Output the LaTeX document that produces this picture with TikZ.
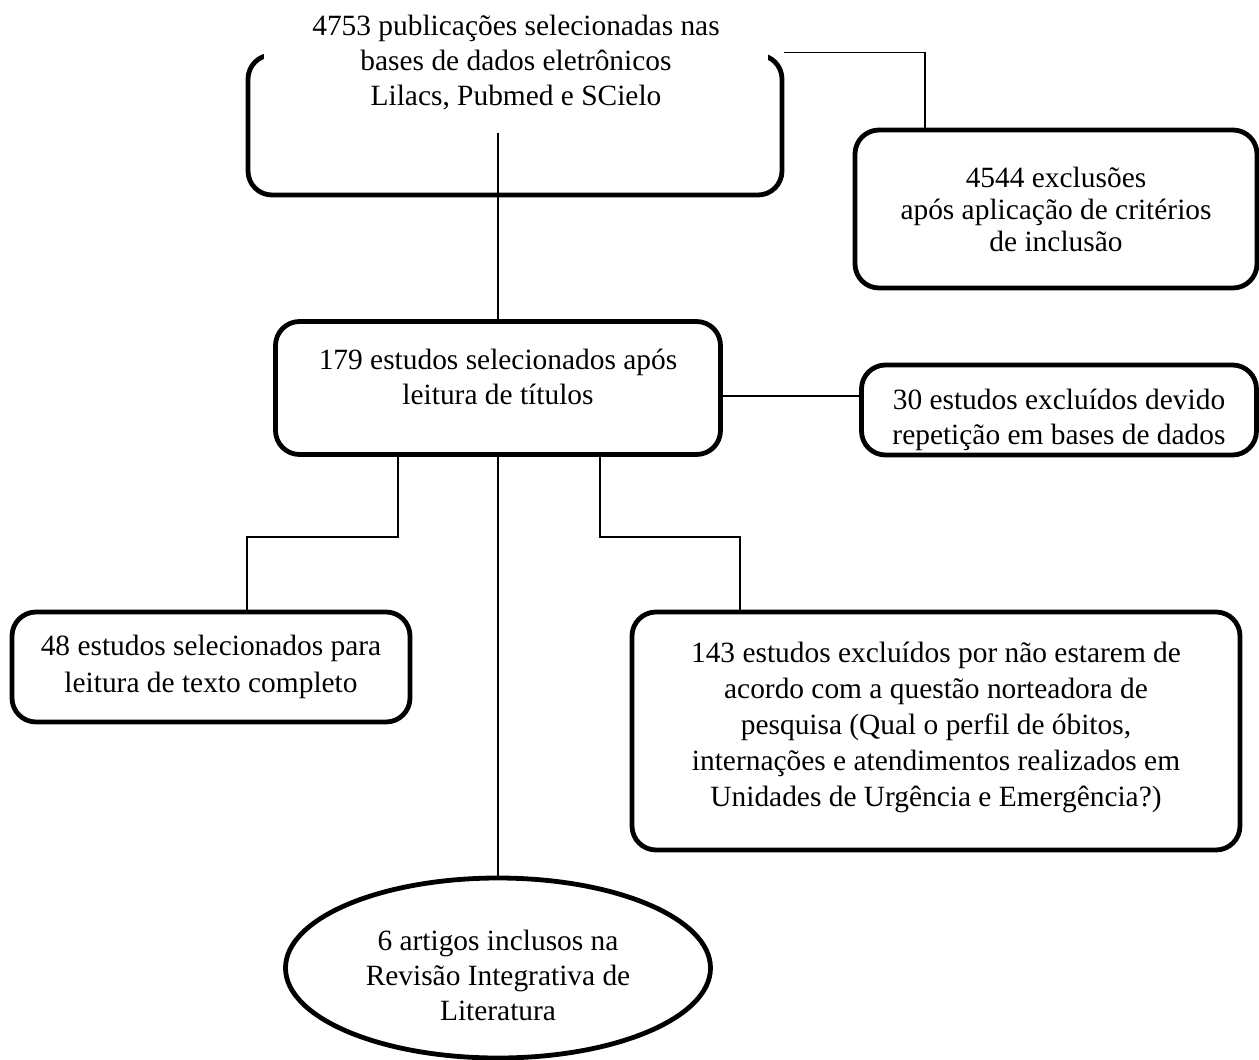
\documentclass[tikz,border=0pt]{standalone}
\usepackage{fontspec}
\setmainfont{Liberation Serif}
\usetikzlibrary{shapes.geometric, positioning, calc}

\begin{document}
\begin{tikzpicture}[x=0.5pt, y=-0.5pt,
    every node/.style={font=\fontsize{14.7}{17.5}\selectfont, align=center},
    cbox/.style={rectangle, rounded corners=12pt, draw=black, line width=2.4pt, fill=white, inner sep=0pt},
    ovalbox/.style={ellipse, draw=black, line width=2.4pt, fill=white, inner sep=0pt},
    link/.style={draw=black, line width=0.8pt}
]
\useasboundingbox (0,0) rectangle (1259,1060);

% Top: publications found
\node[cbox, minimum width=267pt, minimum height=70pt] (pub) at (515,125) {};
\node[fill=white, inner sep=0pt, minimum width=252pt, minimum height=70pt] (pubtext) at (516,63)
    {4753 publicações selecionadas nas\\ bases de dados eletrônicos\\ Lilacs, Pubmed e SCielo};
\node[cbox, minimum width=201pt, minimum height=79pt, font=\fontsize{14.7}{16}\selectfont] (excl) at (1056,209)
    {4544 exclusões\\ após aplicação de critérios\\ de inclusão};

% Middle: title screening
\node[cbox, minimum width=222.5pt, minimum height=66.5pt] (sel) at (498,388)
    {179 estudos selecionados após\\ leitura de títulos\\[-6.5pt]{}};
\node[cbox, minimum width=197.5pt, minimum height=45pt] (rep) at (1059,410)
    {30 estudos excluídos devido\\ repetição em bases de dados\\[-24pt]{}};

% Bottom: full text and exclusions
\node[cbox, minimum width=199pt, minimum height=55pt, font=\fontsize{14.7}{18.5}\selectfont] (full) at (211,667)
    {48 estudos selecionados para\\ leitura de texto completo};
\node[cbox, minimum width=304pt, minimum height=119pt, font=\fontsize{14.7}{18}\selectfont] (nort) at (936,731)
    {143 estudos excluídos por não estarem de\\ acordo com a questão norteadora de\\ pesquisa (Qual o perfil de óbitos,\\ internações e atendimentos realizados em\\ Unidades de Urgência e Emergência?)\\[-11pt]{}};
\node[ovalbox, minimum width=212.5pt, minimum height=90pt] (incl) at (498,968)
    {6 artigos inclusos na\\ Revisão Integrativa de\\ Literatura\\[-24.5pt]{}};

\draw[link] (pub.north east) -| ([xshift=-65.5pt]excl.north);
\draw[link] (pubtext.south -| sel.north) -- (sel.north);
\draw[link] ([yshift=-4pt]sel.east) -- ([yshift=-4pt]sel.east -| rep.west);
\draw[link] ([xshift=-50pt]sel.south) -- ++(0,80) -| ([xshift=18pt]full.north);
\draw[link] ([xshift=51pt]sel.south) -- ++(0,80) -| ([xshift=-98pt]nort.north);
\draw[link] (sel.south) -- (incl.north);

\end{tikzpicture}
\end{document}
